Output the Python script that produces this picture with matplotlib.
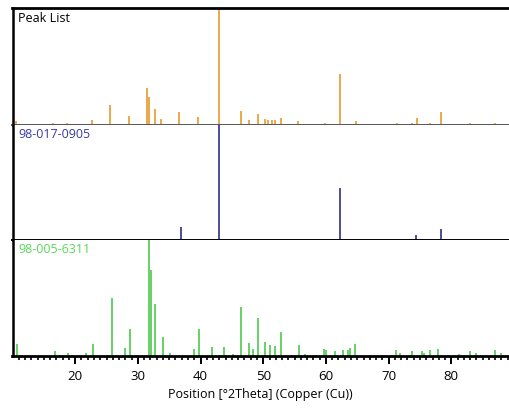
import matplotlib
matplotlib.use("Agg")
import matplotlib.pyplot as plt
from matplotlib.ticker import MultipleLocator, FixedLocator

# peak list (measured), position [deg 2theta] and relative height
peak_pos = [10.5, 16.5, 18.7, 22.7, 25.6, 28.6, 31.5, 31.8, 32.7, 33.7,
            36.6, 39.6, 42.9, 46.4, 47.8, 49.2, 50.3, 50.7, 51.4, 51.9,
            52.9, 55.6, 59.8, 62.2, 64.8, 71.3, 73.8, 74.5, 76.6, 78.3,
            83.0, 86.9]
peak_int = [0.03, 0.02, 0.02, 0.04, 0.17, 0.08, 0.32, 0.24, 0.14, 0.05,
            0.11, 0.07, 1.00, 0.12, 0.04, 0.09, 0.05, 0.04, 0.04, 0.04,
            0.06, 0.03, 0.02, 0.44, 0.03, 0.02, 0.02, 0.06, 0.02, 0.11,
            0.02, 0.02]

# reference 98-017-0905
ref1_pos = [36.9, 42.9, 62.3, 74.4, 78.3]
ref1_int = [0.11, 1.00, 0.45, 0.045, 0.10]

# reference 98-005-6311
ref2_pos = [10.7, 16.8, 18.8, 21.8, 22.8, 25.9, 28.0, 28.8, 31.7, 32.1,
            32.7, 34.0, 35.2, 39.0, 39.7, 41.8, 43.7, 45.1, 46.4, 47.8,
            48.3, 49.2, 50.3, 51.0, 51.9, 52.9, 55.7, 56.7, 59.7, 60.0,
            61.4, 62.7, 63.5, 63.8, 64.7, 71.2, 71.8, 73.7, 75.3, 75.7,
            76.6, 77.9, 81.3, 82.9, 83.9, 86.9, 88.0]
ref2_int = [0.10, 0.04, 0.03, 0.03, 0.10, 0.50, 0.07, 0.23, 1.00, 0.74,
            0.45, 0.16, 0.03, 0.06, 0.23, 0.075, 0.075, 0.02, 0.42, 0.115,
            0.06, 0.33, 0.12, 0.095, 0.085, 0.21, 0.095, 0.02, 0.06, 0.05,
            0.04, 0.05, 0.05, 0.07, 0.10, 0.05, 0.03, 0.04, 0.04, 0.03,
            0.05, 0.06, 0.02, 0.04, 0.03, 0.05, 0.03]

major_ticks = [20, 30, 40, 50, 60, 70, 80]

panels = [("Peak List", peak_pos, peak_int, "#E69A2E", "black"),
          ("98-017-0905", ref1_pos, ref1_int, "#2E2E8C", "#3838A8"),
          ("98-005-6311", ref2_pos, ref2_int, "#4CC94C", "#5AD85A")]

plt.rcParams['font.family'] = ['Open Sans', 'DejaVu Sans']

fig = plt.figure(figsize=(5.09, 4.08), dpi=100)
left = 12.5 / 509
bounds = [(8, 125), (125, 240), (240, 356)]
axes = []
for top, bot in bounds:
    ax = fig.add_axes([left, 1 - bot / 408, 1 - left, (bot - top) / 408])
    axes.append(ax)

for i, ax in enumerate(axes):
    name, pos, inten, col, lcol = panels[i]
    ax.vlines(pos, 0, inten, color=col, lw=1.2)
    ax.set_xlim(10, 89.2)
    ax.set_ylim(0, 1.0)
    ax.set_yticks([])
    ax.text(0.012, 0.97, name, transform=ax.transAxes, ha="left", va="top",
            fontsize=9, color=lcol)
    ax.spines["right"].set_visible(False)
    ax.spines["left"].set_linewidth(1.8)
    if i > 0:
        ax.spines["top"].set_visible(False)
    else:
        ax.spines["top"].set_linewidth(2)
    if i < 2:
        ax.tick_params(axis="x", which="both", bottom=False, labelbottom=False)
        ax.spines["bottom"].set_linewidth(1.4)
    if i == 0:
        ax.spines["bottom"].set_color("#555555")

ax = axes[2]
ax.spines["bottom"].set_linewidth(2)
ax.xaxis.set_major_locator(FixedLocator(major_ticks))
ax.xaxis.set_minor_locator(FixedLocator(range(11, 90)))
ax.tick_params(axis="x", which="major", length=6, width=1.4, labelsize=9.5,
               direction="out", pad=4)
ax.tick_params(axis="x", which="minor", length=3, width=1.2, direction="out")
ax.set_xlabel("Position [°2Theta] (Copper (Cu))", fontsize=9, labelpad=4)
for a in axes[:2]:
    a.xaxis.set_major_locator(FixedLocator(major_ticks))

fig.savefig("out.png", dpi=100)
